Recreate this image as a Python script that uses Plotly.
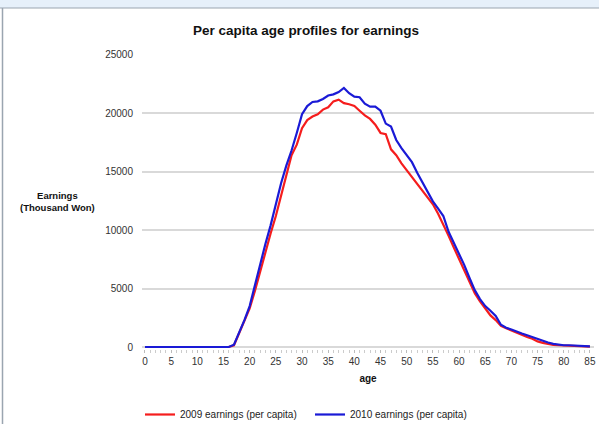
import plotly.graph_objects as go

ages = list(range(0, 86))

earn_2009 = [0]*17 + [
    150, 1200, 2300, 3300, 4800, 6500, 8200, 9700, 11200, 13000,      # 17-26
    14800, 16400, 17300, 18700, 19400, 19700, 19900, 20300, 20500, 21000,  # 27-36
    21150, 20850, 20750, 20600, 20200, 19800, 19500, 19000, 18300, 18200,  # 37-46
    16900, 16400, 15700, 15100, 14500, 13900, 13400, 12700, 12200, 11400,  # 47-56
    10500, 9500, 8500, 7500, 6500, 5500, 4600, 3900, 3300, 2700,          # 57-66
    2300, 1800, 1600, 1400, 1200, 1000, 850, 700, 480, 350,               # 67-76
    250, 180, 150, 130, 120, 100, 80, 60, 40                              # 77-85
]

earn_2010 = [0]*17 + [
    200, 1200, 2300, 3500, 5300, 7000, 8800, 10400, 12200, 14000,         # 17-26
    15500, 16800, 18300, 19900, 20600, 20950, 21000, 21200, 21500, 21600,  # 27-36
    21800, 22150, 21700, 21400, 21350, 20800, 20550, 20550, 20200, 19100,  # 37-46
    18850, 17700, 17000, 16450, 15800, 14900, 14100, 13300, 12450, 11830,  # 47-56
    11200, 9850, 8900, 8000, 7000, 5900, 4860, 4100, 3500, 3100,          # 57-66
    2650, 1900, 1650, 1500, 1300, 1150, 1000, 850, 680, 500,              # 67-76
    380, 270, 200, 150, 150, 120, 100, 80, 50                             # 77-85
]

x_ticks = list(range(0, 90, 5))
y_ticks = [0, 5000, 10000, 15000, 20000, 25000]

# layout geometry (pixels)
W, H = 599, 424
L, R, T, B = 142, 5, 54, 75
pw, ph = W - L - R, H - T - B

def px(x):
    return (x - L) / pw

def py(y):
    return (H - B - y) / ph

fig = go.Figure()
fig.add_trace(go.Scatter(x=ages, y=earn_2009, mode="lines",
                         name="2009 earnings (per capita)",
                         line=dict(color="#f51d1d", width=2.2)))
fig.add_trace(go.Scatter(x=ages, y=earn_2010, mode="lines",
                         name="2010 earnings (per capita)",
                         line=dict(color="#1a1ad6", width=2.2)))

font_fam = "Liberation Sans, Arial, sans-serif"

fig.update_layout(
    width=W, height=H,
    margin=dict(l=L, r=R, t=T, b=B, pad=0, autoexpand=False),
    paper_bgcolor="white", plot_bgcolor="white",
    font=dict(family=font_fam, size=10, color="#333333"),
    title=dict(text="<b>Per capita age profiles for earnings</b>",
               x=px(306), xref="paper", xanchor="center",
               y=1 - 30 / H, yanchor="middle", automargin=False,
               font=dict(family=font_fam, size=13.5, color="#111111")),
    xaxis=dict(range=[-0.57, 85.78], tickvals=x_ticks, showgrid=False,
               zeroline=False, showline=False, automargin=False,
               ticks="outside", ticklen=3, tickcolor="#bbbbbb",
               minor=dict(dtick=1, ticks="outside", ticklen=3, tickcolor="#cccccc"),
               tickfont=dict(size=10, color="#333333"),
               title=dict(text="<b>age</b>", font=dict(size=10, color="#111111"), standoff=8)),
    yaxis=dict(range=[-171, 25050], tickvals=y_ticks, tickformat="d",
               showgrid=True, gridcolor="#d9d9d9", gridwidth=1.5,
               zeroline=False, showline=False, ticks="", automargin=False,
               ticklabelstandoff=8,
               tickfont=dict(size=10, color="#333333")),
    legend=dict(orientation="h", x=px(140), xanchor="left",
                y=py(400), yanchor="top",
                font=dict(size=10, color="#222222"),
                itemwidth=30, entrywidth=125, entrywidthmode="pixels",
                bgcolor="rgba(0,0,0,0)"),
    showlegend=True,
)

# dotted baseline at y=0
fig.add_shape(type="line", xref="paper", yref="y", x0=0, x1=1, y0=0, y1=0,
              line=dict(color="#cccccc", width=1, dash="dot"), layer="below")

# y-axis label as horizontal text
fig.add_annotation(text="<b>Earnings<br>(Thousand Won)</b>", xref="paper", yref="paper",
                   x=px(57), y=py(201), xanchor="center", yanchor="middle",
                   showarrow=False, align="center",
                   font=dict(size=9.5, color="#111111", family=font_fam))

# window frame decorations
fig.add_shape(type="rect", xref="paper", yref="paper",
              x0=px(0), x1=px(W), y0=py(8), y1=py(0),
              fillcolor="#e6f0fa", line=dict(width=0), layer="below")
fig.add_shape(type="line", xref="paper", yref="paper",
              x0=px(0), x1=px(W), y0=py(8), y1=py(8),
              line=dict(color="#9aa5b0", width=1))
fig.add_shape(type="line", xref="paper", yref="paper",
              x0=px(2.5), x1=px(2.5), y0=py(8), y1=py(H),
              line=dict(color="#9aa5b0", width=1.5))

fig.write_html("out.html", config={"displayModeBar": False},
               post_script="document.body.style.margin='0';document.body.style.overflow='hidden';")
